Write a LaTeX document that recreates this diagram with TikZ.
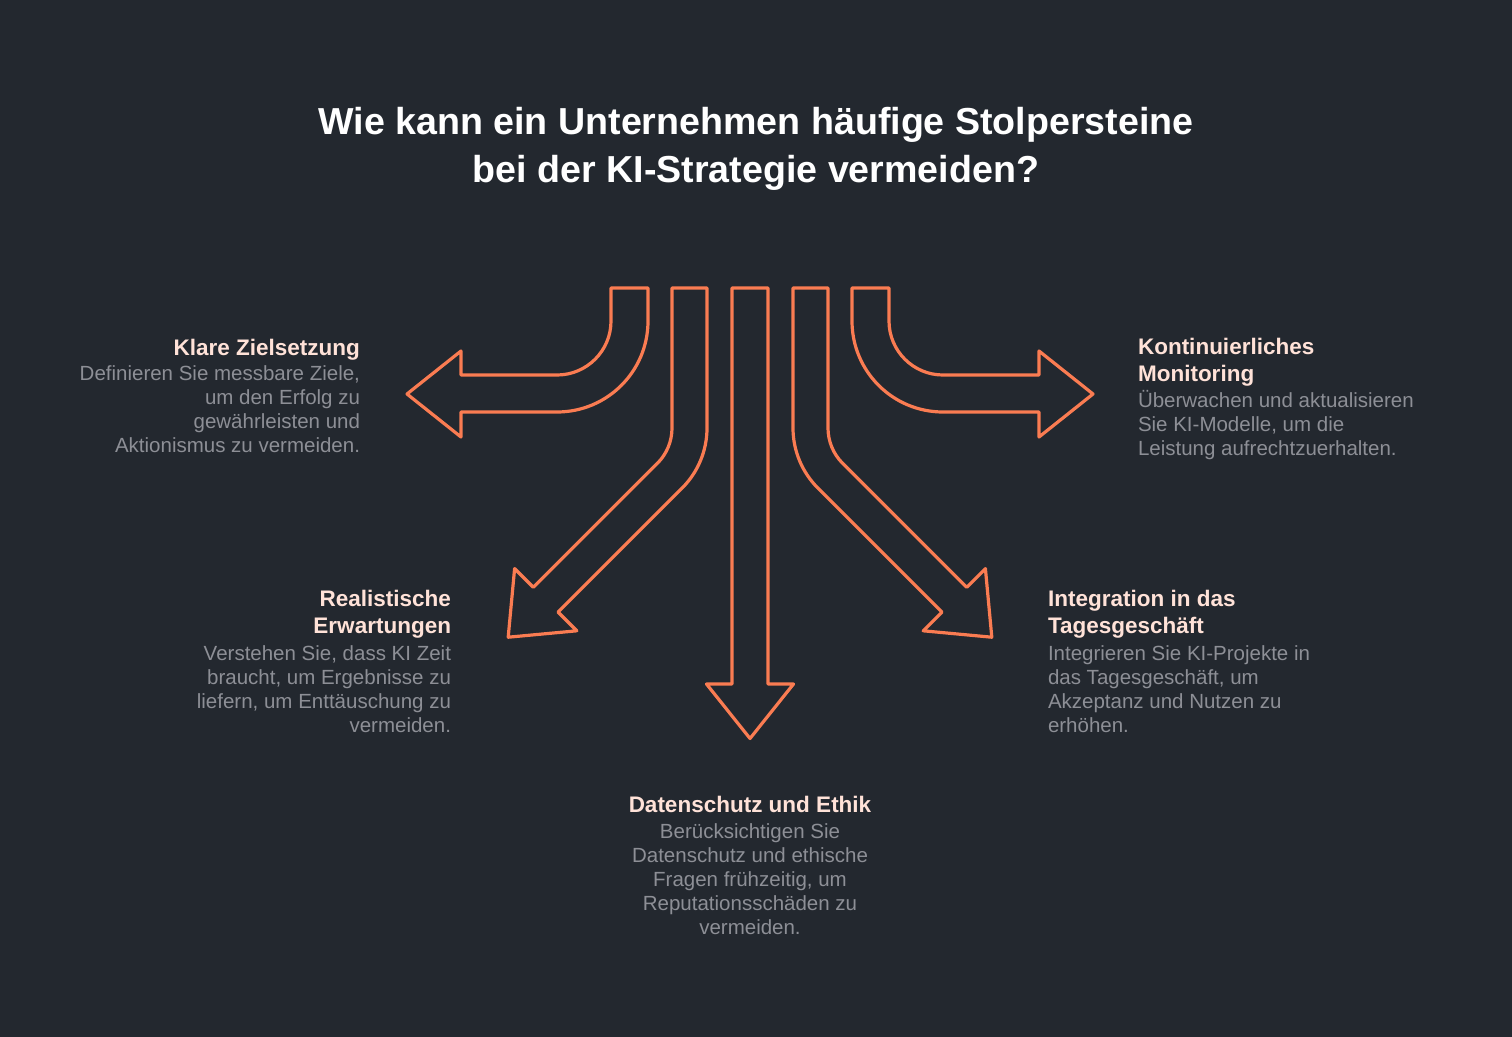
\documentclass[tikz,border=0pt]{standalone}
\usepackage{fontspec}
\setmainfont{Liberation Sans}
\definecolor{bg}{HTML}{23282F}
\definecolor{accent}{HTML}{FA7C52}
\definecolor{headc}{HTML}{FFE2D8}
\definecolor{bodyc}{HTML}{8D8F96}
\begin{document}
\begin{tikzpicture}[x=1pt,y=-1pt,
  arrowshape/.style={draw=accent, line width=3.2pt, line join=round},
  titletext/.style={inner sep=0pt, outer sep=0pt, text=white, font=\fontsize{37.6}{45}\selectfont\bfseries},
  headtext/.style={inner sep=0pt, outer sep=0pt, text=headc, font=\fontsize{22.5}{27}\selectfont\bfseries},
  bodytext/.style={inner sep=0pt, outer sep=0pt, text=bodyc, font=\fontsize{20.5}{24}\selectfont}]
\useasboundingbox (0,0) rectangle (1512,1036);
\fill[bg] (-4,-4) rectangle (1516,1040);

% title
\node[titletext, anchor=base] (t1) at (756,134) {Wie kann ein Unternehmen häufige Stolpersteine};
\node[titletext, anchor=base] (t2) at (756,182) {bei der KI-Strategie vermeiden?};

% arrow left
\draw[arrowshape] (611,288) -- (648,288) -- (648,321)
  .. controls (648,371.3) and (607.3,412) .. (557,412) -- (461,412) -- (461,437)
  -- (407,394) -- (461,351) -- (461,375) -- (557,375)
  .. controls (586.8,375) and (611,350.8) .. (611,321) -- cycle;
% arrow right
\draw[arrowshape] (889,288) -- (852,288) -- (852,321)
  .. controls (852,371.3) and (892.7,412) .. (943,412) -- (1039,412) -- (1039,437)
  -- (1093,394) -- (1039,351) -- (1039,375) -- (943,375)
  .. controls (913.2,375) and (889,350.8) .. (889,321) -- cycle;
% arrow down-left
\draw[arrowshape] (672,288) -- (707,288) -- (707,428)
  .. controls (707,450.54) and (698.04,472.16) .. (682.1,488.1)
  -- (558.1,612.1) -- (576.8,630.8) -- (508.2,637.2) -- (514.6,568.6) -- (533.3,587.3)
  -- (657.36,463.36) .. controls (666.74,453.98) and (672,441.26) .. (672,428) -- cycle;
% arrow down-right
\draw[arrowshape] (828,288) -- (793,288) -- (793,428)
  .. controls (793,450.54) and (801.96,472.16) .. (817.9,488.1)
  -- (941.9,612.1) -- (923.2,630.8) -- (991.8,637.2) -- (985.4,568.6) -- (966.7,587.3)
  -- (842.64,463.36) .. controls (833.26,453.98) and (828,441.26) .. (828,428) -- cycle;
% arrow down
\draw[arrowshape] (732,288) -- (768,288) -- (768,684) -- (793.5,684) -- (750,738.5)
  -- (706.5,684) -- (732,684) -- cycle;

% Klare Zielsetzung
\node[headtext, anchor=base east] (a0) at (360,355) {Klare Zielsetzung};
\node[bodytext, anchor=base east] (a1) at (360,380.7) {Definieren Sie messbare Ziele,};
\node[bodytext, anchor=base east] (a2) at (360,404.7) {um den Erfolg zu};
\node[bodytext, anchor=base east] (a3) at (360,428.7) {gewährleisten und};
\node[bodytext, anchor=base east] (a4) at (360,452.7) {Aktionismus zu vermeiden.};

% Kontinuierliches Monitoring
\node[headtext, anchor=base west] (b0) at (1138,354) {Kontinuierliches};
\node[headtext, anchor=base west] (b1) at (1138,381) {Monitoring};
\node[bodytext, anchor=base west] (b2) at (1138,407) {Überwachen und aktualisieren};
\node[bodytext, anchor=base west] (b3) at (1138,431) {Sie KI-Modelle, um die};
\node[bodytext, anchor=base west] (b4) at (1138,455) {Leistung aufrechtzuerhalten.};

% Realistische Erwartungen
\node[headtext, anchor=base east] (c0) at (451,606) {Realistische};
\node[headtext, anchor=base east] (c1) at (451,633) {Erwartungen};
\node[bodytext, anchor=base east] (c2) at (451,660) {Verstehen Sie, dass KI Zeit};
\node[bodytext, anchor=base east] (c3) at (451,684) {braucht, um Ergebnisse zu};
\node[bodytext, anchor=base east] (c4) at (451,708) {liefern, um Enttäuschung zu};
\node[bodytext, anchor=base east] (c5) at (451,732) {vermeiden.};

% Integration in das Tagesgeschäft
\node[headtext, anchor=base west] (d0) at (1048,606) {Integration in das};
\node[headtext, anchor=base west] (d1) at (1048,633) {Tagesgeschäft};
\node[bodytext, anchor=base west] (d2) at (1048,660) {Integrieren Sie KI-Projekte in};
\node[bodytext, anchor=base west] (d3) at (1048,684) {das Tagesgeschäft, um};
\node[bodytext, anchor=base west] (d4) at (1048,708) {Akzeptanz und Nutzen zu};
\node[bodytext, anchor=base west] (d5) at (1048,732) {erhöhen.};

% Datenschutz und Ethik
\node[headtext, anchor=base] (e0) at (750,812) {Datenschutz und Ethik};
\node[bodytext, anchor=base] (e1) at (750,838) {Berücksichtigen Sie};
\node[bodytext, anchor=base] (e2) at (750,862) {Datenschutz und ethische};
\node[bodytext, anchor=base] (e3) at (750,886) {Fragen frühzeitig, um};
\node[bodytext, anchor=base] (e4) at (750,910) {Reputationsschäden zu};
\node[bodytext, anchor=base] (e5) at (750,934) {vermeiden.};
\end{tikzpicture}
\end{document}
